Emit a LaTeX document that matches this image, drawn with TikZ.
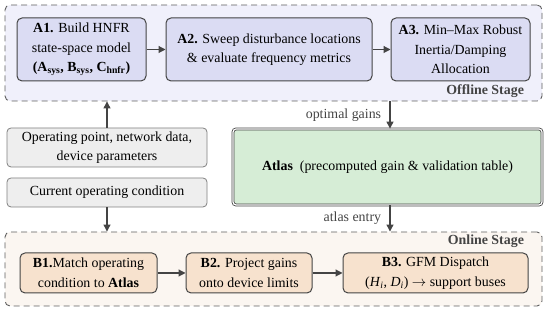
\documentclass[tikz,border=0pt]{standalone}
\usepackage{fontspec}
\setmainfont{Liberation Serif}
\usetikzlibrary{arrows.meta,positioning,calc}
\definecolor{edgegray}{RGB}{68,68,68}
\definecolor{dashgray}{RGB}{95,95,95}
\definecolor{offfill}{RGB}{240,240,251}
\definecolor{offbox}{RGB}{219,220,243}
\definecolor{onfill}{RGB}{251,246,241}
\definecolor{onbox}{RGB}{247,226,206}
\definecolor{inbox}{RGB}{238,238,238}
\definecolor{atlasgreen}{RGB}{214,237,214}
\newcommand{\figfont}{\fontsize{13.9}{19.5}\selectfont}
\tikzset{
  stagebox/.style={draw=dashgray, dashed, dash pattern=on 6pt off 4pt, line width=0.9pt,
                   rounded corners=5pt, inner sep=0pt},
  offblk/.style={draw=edgegray, fill=offbox, line width=1pt, rounded corners=5pt,
                 align=center, inner sep=2pt},
  onblk/.style={draw=edgegray, fill=onbox, line width=1pt, rounded corners=5pt,
                align=center, inner sep=2pt},
  inblk/.style={draw=gray, fill=inbox, line width=0.8pt, rounded corners=4pt,
                align=center, inner sep=2pt, minimum width=200pt},
  flowarr/.style={-{Triangle[length=7pt,width=7pt]}, edgegray, line width=1.1pt},
  stagelbl/.style={font=\figfont\bfseries, text=edgegray},
}

\begin{document}
\begin{tikzpicture}[x=1pt, y=1pt, font=\figfont]
  \useasboundingbox (0,0) rectangle (550,312);
  % stages
  \node[stagebox, fill=offfill, minimum width=537pt, minimum height=96pt] (off) at (273.5,259) {};
  \node[stagebox, fill=onfill, minimum width=537pt, minimum height=74pt] (on) at (273.5,43) {};
  \node[stagelbl, anchor=south east] at ($(off.south east)+(-15,0)$) {Offline Stage};
  \node[stagelbl, anchor=north east] at ($(on.north east)+(-15,0)$) {Online Stage};
  % offline steps
  \node[offblk, minimum width=129pt, minimum height=63pt] (a1) at (81.5,262.5)
       {\textbf{A1.} Build HNFR\\state-space model\\
        \textbf{(A\textsubscript{sys}, B\textsubscript{sys}, C\textsubscript{hnfr})}};
  \node[offblk, minimum width=206pt, minimum height=63pt] (a2) at (269,262.5)
       {\textbf{A2.} Sweep disturbance locations\\\& evaluate frequency metrics};
  \node[offblk, minimum width=139pt, minimum height=63pt] (a3) at (460.5,262.5)
       {\textbf{A3.} Min--Max Robust\\Inertia/Damping\\Allocation};
  % inputs
  \node[inblk, minimum height=39pt] (opp) at (107,164.5)
       {Operating point, network data,\\device parameters};
  \node[inblk, minimum height=29pt] (cur) at (107,119.5) {Current operating condition};
  % atlas
  \node[draw=edgegray, fill=atlasgreen, double=white, double distance=1.2pt, line width=0.8pt,
        rounded corners=3pt, minimum width=309pt, minimum height=76pt] (atlas) at (387.5,145)
       {\textbf{Atlas}\ \ (precomputed gain \& validation table)};
  % online steps
  \node[onblk, minimum width=137pt, minimum height=40pt] (b1) at (88.5,39)
       {\textbf{B1.}Match operating\\condition to \textbf{Atlas}};
  \node[onblk, minimum width=126pt, minimum height=40pt] (b2) at (249,39)
       {\textbf{B2.} Project gains\\onto device limits};
  \node[onblk, minimum width=185pt, minimum height=40pt] (b3) at (435.5,39)
       {\textbf{B3.} GFM Dispatch\\(\textit{H}\textsubscript{\textit{i}}, \textit{D}\textsubscript{\textit{i}}) $\rightarrow$ support buses};
  % flow
  \draw[flowarr] (a1) -- (a2);
  \draw[flowarr] (a2) -- (a3);
  \draw[flowarr] (b1) -- (b2);
  \draw[flowarr] (b2) -- (b3);
  \draw[flowarr] (opp.north) -- (opp.north |- off.south);
  \draw[flowarr] (cur.south) -- (cur.south |- on.north);
  \draw[flowarr] (off.south -| 390,0) -- node[left=5pt] {optimal gains} (atlas.north -| 390,0);
  \draw[flowarr] (atlas.south -| 390,0) -- node[left=5pt] {atlas entry} (on.north -| 390,0);
\end{tikzpicture}
\end{document}
